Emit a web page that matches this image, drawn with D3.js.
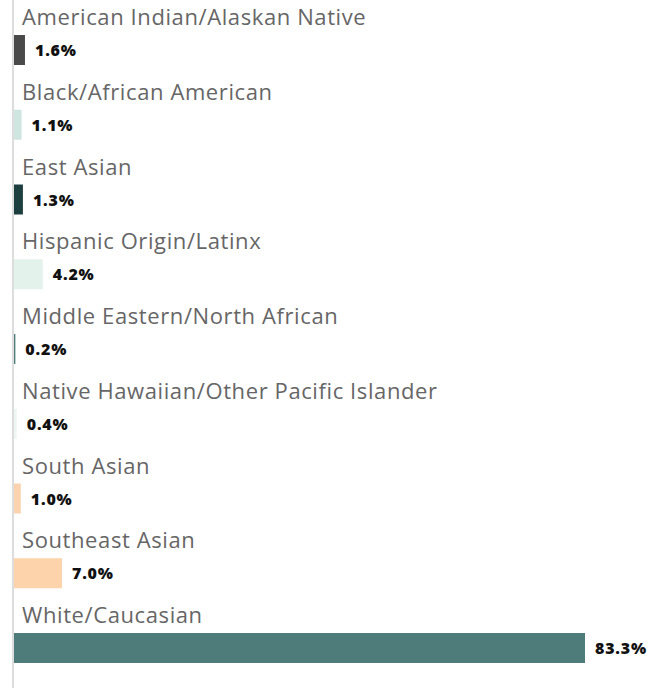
<!DOCTYPE html>
<html>
<head>
<meta charset="utf-8">
<script src="https://cdn.jsdelivr.net/npm/d3@7"></script>
<style>
  html, body { margin: 0; padding: 0; background: #fff; }
  .cat { font-family: "Open Sans", sans-serif; font-size: 22px; letter-spacing: 0.6px; fill: #666666; }
  .val { font-family: "Open Sans", sans-serif; font-size: 16px; font-weight: 800; letter-spacing: 0.8px; fill: #111; }
</style>
</head>
<body>
<div class="chart-container"></div>
<script>
//! CONSTS
const WIDTH = 665
const HEIGHT = 688
const AXIS_X = 13
const BAR_X = 14
const STEP = 74.75

//! DATA
const categories = [
  'American Indian/Alaskan Native',
  'Black/African American',
  'East Asian',
  'Hispanic Origin/Latinx',
  'Middle Eastern/North African',
  'Native Hawaiian/Other Pacific Islander',
  'South Asian',
  'Southeast Asian',
  'White/Caucasian'
]
const values = [1.6, 1.1, 1.3, 4.2, 0.2, 0.4, 1.0, 7.0, 83.3]
const colors = ['#4a4a4a', '#cfe5df', '#1e3f3f', '#e4f2ec', '#4f7e7c', '#eef6f3', '#fbd3ae', '#fdd3ab', '#4e7c7a']

//! SVG
const svg = d3.select('.chart-container')
  .append('svg')
  .attr('width', WIDTH)
  .attr('height', HEIGHT)

// x scale: 83.3% ends around x=585
const x = d3.scaleLinear()
  .domain([0, 83.3])
  .range([0, 571])

// each row = label line + bar
const y = d3.scaleBand()
  .domain(categories)
  .range([0, STEP * categories.length])

const rows = svg.selectAll('g.row')
  .data(categories)
  .enter()
  .append('g')
  .attr('class', 'row')
  .attr('transform', d => `translate(0, ${y(d)})`)

rows.append('text')
  .attr('class', 'cat')
  .attr('x', 22)
  .attr('y', 25)
  .text(d => d)

rows.append('rect')
  .attr('x', BAR_X)
  .attr('y', 35)
  .attr('height', 30)
  .attr('width', (d, i) => x(values[i]))
  .attr('fill', (d, i) => colors[i])

rows.append('text')
  .attr('class', 'val')
  .attr('x', (d, i) => BAR_X + x(values[i]) + 10)
  .attr('y', 56)
  .text((d, i) => values[i].toFixed(1) + '%')

// the vertical axis line
svg.append('line')
  .attr('x1', AXIS_X)
  .attr('x2', AXIS_X)
  .attr('y1', 0)
  .attr('y2', HEIGHT)
  .attr('stroke', '#dddddd')
  .attr('stroke-width', 2)
</script>
</body>
</html>
